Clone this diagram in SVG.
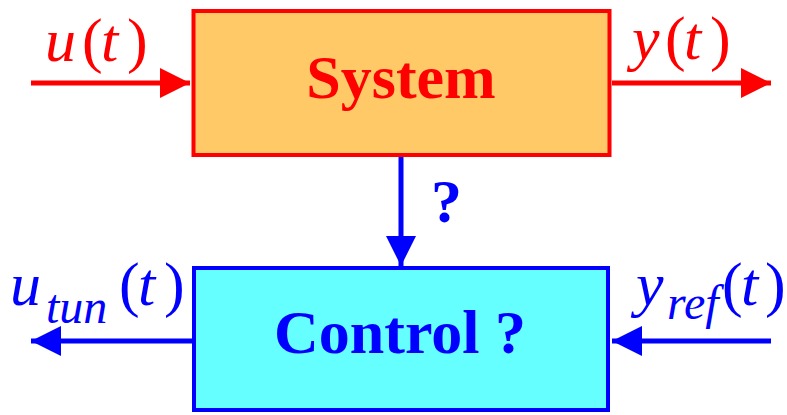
<svg xmlns="http://www.w3.org/2000/svg" width="787" height="415" viewBox="0 0 787 415">
<style>
.red{fill:#FF0000}
.blue{fill:#0000FF}
.math{font-family:"Liberation Serif","Times New Roman",serif;font-style:italic;font-size:62px}
.up{font-style:normal}
.sub{font-size:48px}
.lbl{font-family:"Liberation Serif","Times New Roman",serif;font-weight:bold;font-size:62px}
.lr{stroke:#FF0000;stroke-width:5;fill:none}
.lb{stroke:#0000FF;stroke-width:5;fill:none}
</style>
<defs>
<marker id="ar" markerUnits="userSpaceOnUse" markerWidth="32" markerHeight="32" viewBox="0 0 32 32" refX="30" refY="16" orient="auto"><path d="M0,1 L30,16 L0,31 Z" fill="#FF0000"/></marker>
<marker id="ab" markerUnits="userSpaceOnUse" markerWidth="32" markerHeight="32" viewBox="0 0 32 32" refX="30" refY="16" orient="auto"><path d="M0,1 L30,16 L0,31 Z" fill="#0000FF"/></marker>
</defs>
<g id="connectors">
<line class="lr" x1="31" y1="83" x2="190" y2="83" marker-end="url(#ar)"/>
<line class="lr" x1="612" y1="83" x2="771" y2="83" marker-end="url(#ar)"/>
<line class="lb" x1="401" y1="157" x2="401" y2="266" marker-end="url(#ab)"/>
<line class="lb" x1="192" y1="341" x2="31" y2="341" marker-end="url(#ab)"/>
<line class="lb" x1="771" y1="341" x2="612" y2="341" marker-end="url(#ab)"/>
<text class="lbl blue" x="431" y="222" font-size="58">?</text>
<text class="math red" y="61"><tspan x="45">u</tspan><tspan class="up" x="82">(</tspan><tspan x="101">t</tspan><tspan class="up" x="127">)</tspan></text>
<text class="math red" y="59"><tspan x="632">y</tspan><tspan class="up" x="665">(</tspan><tspan x="684">t</tspan><tspan class="up" x="710">)</tspan></text>
<text class="math blue" y="305"><tspan x="10">u</tspan><tspan class="sub" x="46" y="323">tun</tspan><tspan class="up" x="119" y="305">(</tspan><tspan x="138">t</tspan><tspan class="up" x="164">)</tspan></text>
<text class="math blue" y="305"><tspan x="636">y</tspan><tspan class="sub" x="667" y="319">ref</tspan><tspan class="up" x="722" y="305">(</tspan><tspan x="741">t</tspan><tspan class="up" x="765">)</tspan></text>
</g>
<g id="system">
<rect x="193.5" y="11" width="416" height="144" fill="#FEC966" stroke="#FF0000" stroke-width="4"/>
<text class="lbl red" x="401" y="98" text-anchor="middle">System</text>
</g>
<g id="control">
<rect x="194" y="268" width="414" height="142" fill="#66FFFF" stroke="#0000FF" stroke-width="4"/>
<text class="lbl blue" x="400" y="353" text-anchor="middle" font-size="60">Control ?</text>
</g>
</svg>
